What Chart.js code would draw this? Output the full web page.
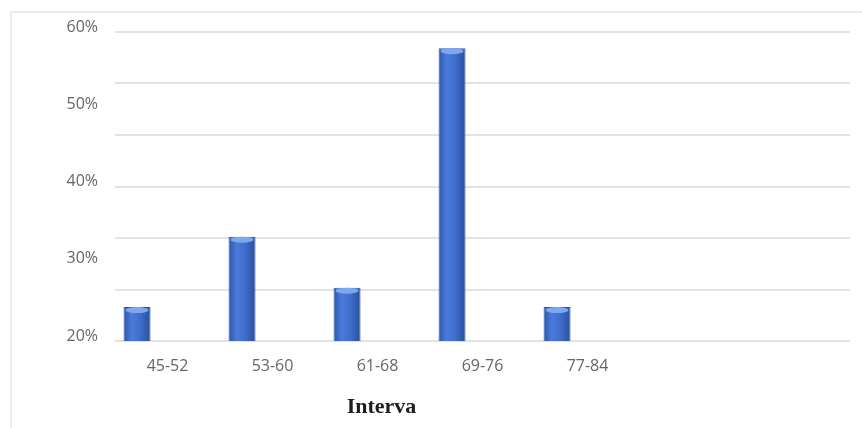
<!DOCTYPE html>
<html>
<head>
<meta charset="utf-8">
<script src="https://cdn.jsdelivr.net/npm/chart.js@4/dist/chart.umd.min.js"></script>
<style>
  html, body { margin: 0; padding: 0; background: #fff; }
  #frame { position: absolute; left: 10px; top: 11px; width: 850px; height: 420px;
           border-top: 2px solid #ececec; border-left: 2px solid #ececec; }
  #wrap { position: absolute; left: 0; top: 0; width: 862px; height: 428px; }
</style>
</head>
<body>
<div id="frame"></div>
<div id="wrap"><canvas id="chart"></canvas></div>
<script>
const categories = ["45-52", "53-60", "61-68", "69-76", "77-84", "", ""];
const shares = [24.4, 33.5, 26.9, 57.9, 24.4, null, null];
const emptySeries = [null, null, null, null, null, null, null];
const yTicks = [20, 30, 40, 50, 60];
const axisTitle = "Interva";

// cylinder look: horizontal gradient on each bar plus a light cap on top
const barShade = {
  id: "bar_shade",
  beforeDatasetsDraw: (chart) => {
    const {ctx} = chart;
    const meta = chart.getDatasetMeta(0);
    meta.data.forEach((bar, i) => {
      if (shares[i] == null) return;
      const w = bar.width;
      const g = ctx.createLinearGradient(bar.x - w / 2, 0, bar.x + w / 2, 0);
      g.addColorStop(0, "#2c56a8");
      g.addColorStop(0.3, "#4a7bdc");
      g.addColorStop(0.6, "#3f6fcd");
      g.addColorStop(1, "#2a4f9c");
      bar.options = Object.assign({}, bar.options, { backgroundColor: g });
    });
  },
  afterDatasetsDraw: (chart) => {
    const {ctx} = chart;
    const meta = chart.getDatasetMeta(0);
    ctx.save();
    ctx.fillStyle = "#7fa7f0";
    meta.data.forEach((bar, i) => {
      if (shares[i] == null) return;
      ctx.beginPath();
      ctx.ellipse(bar.x, bar.y + 3, bar.width / 2 - 2, 3, 0, 0, Math.PI * 2);
      ctx.fill();
    });
    ctx.restore();
  }
};

const titlePlugin = {
  id: "axis_title_left",
  afterDraw: (chart) => {
    const {ctx} = chart;
    const x = chart.scales.x.getPixelForValue(2) + 4;
    ctx.save();
    ctx.font = "bold 22px 'Liberation Serif', serif";
    ctx.fillStyle = "#1e1e1e";
    ctx.textAlign = "center";
    ctx.textBaseline = "middle";
    ctx.fillText(axisTitle, x, 407);
    ctx.restore();
  }
};

new Chart(document.getElementById("chart"), {
  type: "bar",
  plugins: [barShade, titlePlugin],
  data: {
    labels: categories,
    datasets: [{
      label: "Interval",
      data: shares,
      backgroundColor: "#416fc9",
      borderColor: "#2d55a6",
      borderWidth: 1,
      categoryPercentage: 1.16,
      barPercentage: 0.443,
      yAxisID: "y"
    }, {
      label: "",
      data: emptySeries,
      categoryPercentage: 1.16,
      barPercentage: 0.443,
      yAxisID: "y"
    }]
  },
  options: {
    responsive: true,
    maintainAspectRatio: false,
    animation: false,
    layout: { padding: { left: 0, right: 12, top: 32, bottom: 0 } },
    plugins: {
      legend: { display: false },
      tooltip: { enabled: false }
    },
    scales: {
      x: {
        grid: { display: false, drawTicks: false },
        border: { display: false },
        ticks: { color: "#666666", font: { family: "Open Sans", size: 16 }, padding: 16 },
        afterFit: (scale) => { scale.height = 87; }
      },
      y: {
        min: 20,
        max: 60,
        afterBuildTicks: (scale) => { scale.ticks = yTicks.map(v => ({ value: v })); },
        grid: { display: false, drawTicks: false },
        border: { display: false },
        ticks: {
          color: "#666666",
          font: { family: "Open Sans", size: 16 },
          padding: 17,
          labelOffset: -5,
          callback: (v) => v + "%"
        },
        afterFit: (scale) => { scale.width = 115; }
      },
      grid: {
        position: "left",
        min: 20,
        max: 60,
        ticks: { display: false, count: 7 },
        grid: { color: "#e3e3e3", lineWidth: 2, drawTicks: false },
        border: { display: false },
        afterFit: (scale) => { scale.width = 0; }
      }
    }
  }
});
</script>
</body>
</html>
